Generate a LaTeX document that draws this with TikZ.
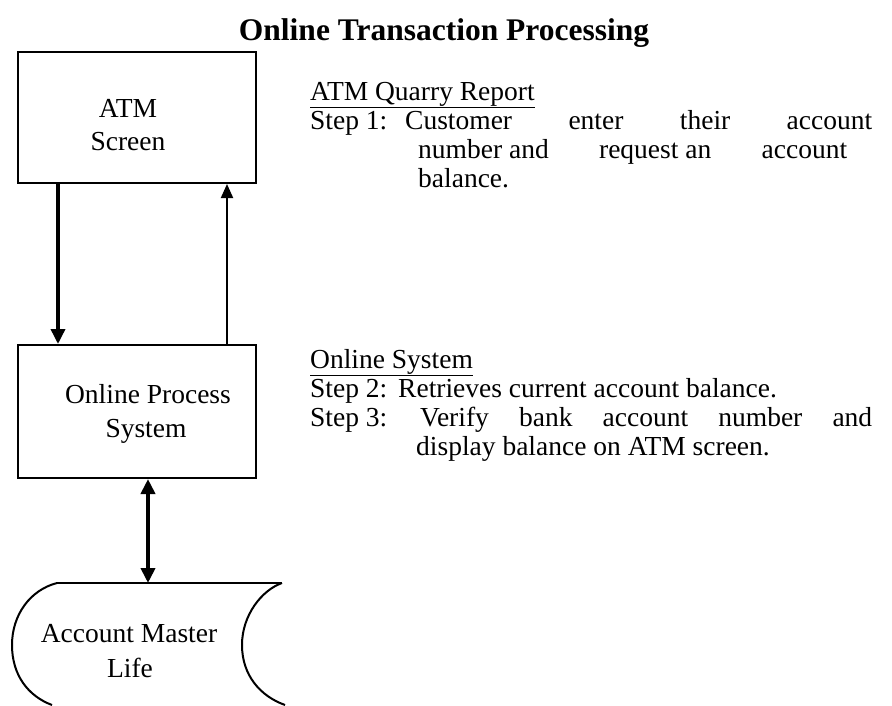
\documentclass[tikz,border=0pt]{standalone}
\usepackage{fontspec}
\setmainfont{Liberation Serif}
\usetikzlibrary{arrows.meta}

\newcommand{\bodyfont}{\fontsize{27.5}{32}\selectfont}
\newcommand{\titlefont}{\fontsize{31.5}{36}\selectfont\bfseries}

\tikzset{
  box/.style={draw, line width=2pt, inner sep=0pt},
  txt/.style={inner sep=0pt, anchor=base west, font=\bodyfont},
  ctxt/.style={inner sep=0pt, anchor=base, font=\bodyfont},
  flow/.style={line width=3.5pt, -{Triangle[length=15pt,width=14pt]}},
  flowthin/.style={line width=2pt, -{Triangle[length=14pt,width=12pt]}},
  flowboth/.style={line width=4pt, {Triangle[length=15pt,width=14pt]}-{Triangle[length=15pt,width=14pt]}},
  storeline/.style={line width=2pt, line join=round}
}

\begin{document}
\begin{tikzpicture}[x=1pt, y=-1pt]
\useasboundingbox (0,0) rectangle (892,705);

% title
\node[inner sep=0pt, anchor=base, font=\titlefont] (title) at (444,40) {Online Transaction Processing};

% process boxes
\node[box, minimum width=238pt, minimum height=131pt] (atm) at (137,117.5) {};
\node[ctxt] (atmA) at (128,117) {ATM};
\node[ctxt] (atmB) at (128,150) {Screen};

\node[box, minimum width=238pt, minimum height=133pt] (ops) at (137,411.5) {};
\node[ctxt] (opsA) at (148,403) {Online Process};
\node[ctxt] (opsB) at (146,437) {System};

% stored data (master file) symbol
\coordinate (stTL) at (57,583);
\coordinate (stTR) at (282,583);
\coordinate (store) at (148,583);
\draw[storeline] (stTL) -- (stTR);
\draw[storeline] (stTL) .. controls (30,590) and (12,615) .. (12,645)
                        .. controls (12,675) and (28,696) .. (52,705);
\draw[storeline] (stTR) .. controls (262,590) and (242,615) .. (242,645)
                        .. controls (242,675) and (260,696) .. (285,705);
\node[ctxt] (stA) at (129,642) {Account Master};
\node[ctxt] (stB) at (130,677) {Life};

% connectors
\coordinate (xdown) at (58,0);
\coordinate (xup) at (227,0);
\coordinate (xmid) at (148,0);
\draw[flow] (xdown |- atm.south) -- (xdown |- ops.north);
\draw[flowthin] (xup |- ops.north) -- (xup |- atm.south);
\draw[flowboth] (xmid |- ops.south) -- (store);

% ATM query notes
\node[txt] (h1) at (310,100) {\underline{ATM Quarry Report}};
\node[txt] (s1) at (310,129) {Step 1:};
\node[txt] (l1) at (405,129) {\makebox[467pt][s]{Customer enter their account}};
\node[txt] (l2) at (418,158) {\makebox[429pt][s]{\mbox{number and} \mbox{request an} account}};
\node[txt] (l3) at (418,187) {balance.};

% online system notes
\node[txt] (h2) at (310,368) {\underline{Online System}};
\node[txt] (s2) at (310,397) {Step 2:};
\node[txt] (l4) at (398,397) {Retrieves current account balance.};
\node[txt] (s3) at (310,426) {Step 3:};
\node[txt] (l5) at (420,426) {\makebox[452pt][s]{Verify bank account number and}};
\node[txt] (l6) at (416,455) {display balance on ATM screen.};
\end{tikzpicture}
\end{document}
